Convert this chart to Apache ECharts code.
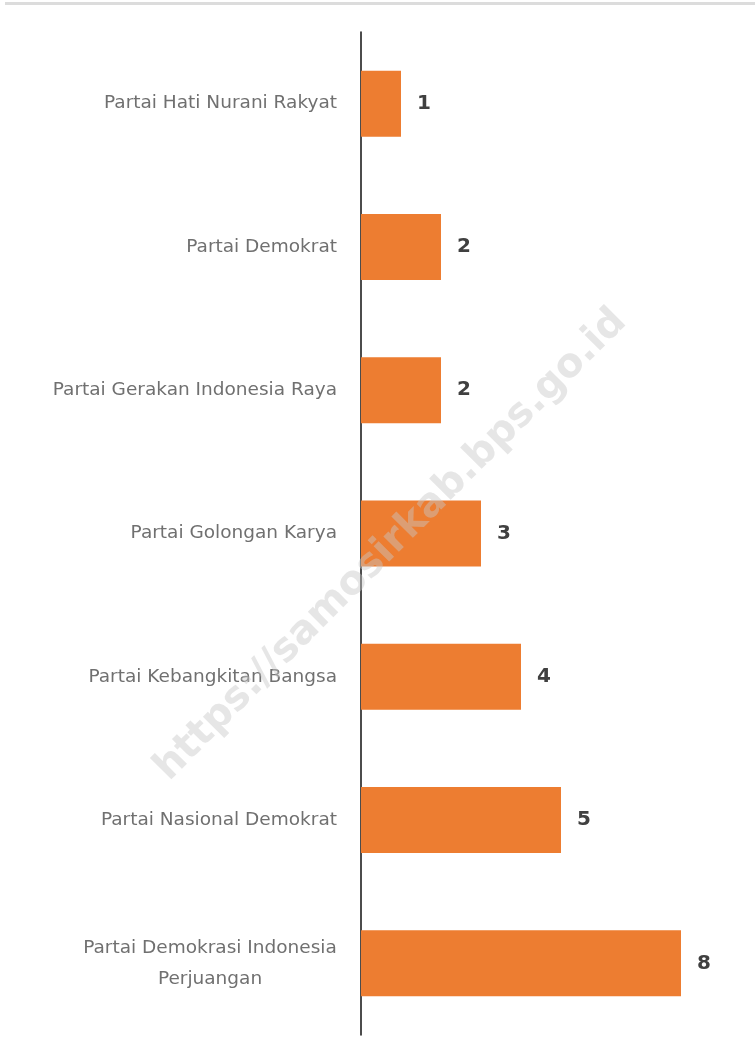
<!DOCTYPE html>
<html>
<head>
  <meta charset="UTF-8">
  <title>Partai</title>
  <script src="https://cdn.jsdelivr.net/npm/echarts@6/dist/echarts.min.js"></script>
  <style>
    html, body { margin: 0; padding: 0; background: #fff; }
  </style>
</head>
<body>
  <div id="chart" style="width: 755px; height: 1056px"></div>
  <script>
    // data
    const partai = [
      'Partai Hati Nurani Rakyat',
      'Partai Demokrat',
      'Partai Gerakan Indonesia Raya',
      'Partai Golongan Karya',
      'Partai Kebangkitan Bangsa',
      'Partai Nasional Demokrat',
      'Partai Demokrasi Indonesia\nPerjuangan'
    ];
    const kursi = [1, 2, 2, 3, 4, 5, 8];

    // two-line labels are centred on themselves, like in the original
    const yData = partai.map(function (p) {
      if (p.indexOf('\n') < 0) return p;
      return { value: p, textStyle: { align: 'center', padding: [0, 254, 0, 0] } };
    });

    const myChart = echarts.init(document.getElementById('chart'));
    const option = {
      animation: false,
      textStyle: { fontFamily: 'DejaVu Sans' },
      grid: { left: 361, right: 0, top: 32, bottom: 21, outerBoundsMode: 'none' },
      xAxis: {
        type: 'value',
        min: 0,
        max: 9.85,
        show: false
      },
      yAxis: {
        type: 'category',
        data: yData,
        inverse: true,
        axisLine: { show: true, lineStyle: { color: '#111', width: 1.5 } },
        axisTick: { show: false },
        axisLabel: {
          margin: 24,
          fontSize: 18.5,
          color: '#707070',
          lineHeight: 31,
          align: 'right'
        }
      },
      series: [{
        type: 'bar',
        data: kursi,
        barWidth: 66,
        itemStyle: { color: '#ED7D31' },
        label: {
          show: true,
          position: 'right',
          distance: 16,
          fontSize: 20,
          fontWeight: 'bold',
          color: '#404040'
        }
      }],
      graphic: [
        {
          // thin grey line at the top
          type: 'rect',
          shape: { x: 5, y: 2, width: 750, height: 3 },
          style: { fill: '#dcdcdc' }
        },
        {
          // watermark
          type: 'text',
          x: 391,
          y: 545,
          rotation: Math.PI / 4,
          style: {
            text: 'https://samosirkab.bps.go.id',
            fontSize: 40,
            fontWeight: 'bold',
            fontFamily: 'DejaVu Sans',
            fill: 'rgba(200,200,200,0.45)',
            align: 'center',
            verticalAlign: 'middle'
          },
          z: 100
        }
      ]
    };
    myChart.setOption(option);
  </script>
</body>
</html>
